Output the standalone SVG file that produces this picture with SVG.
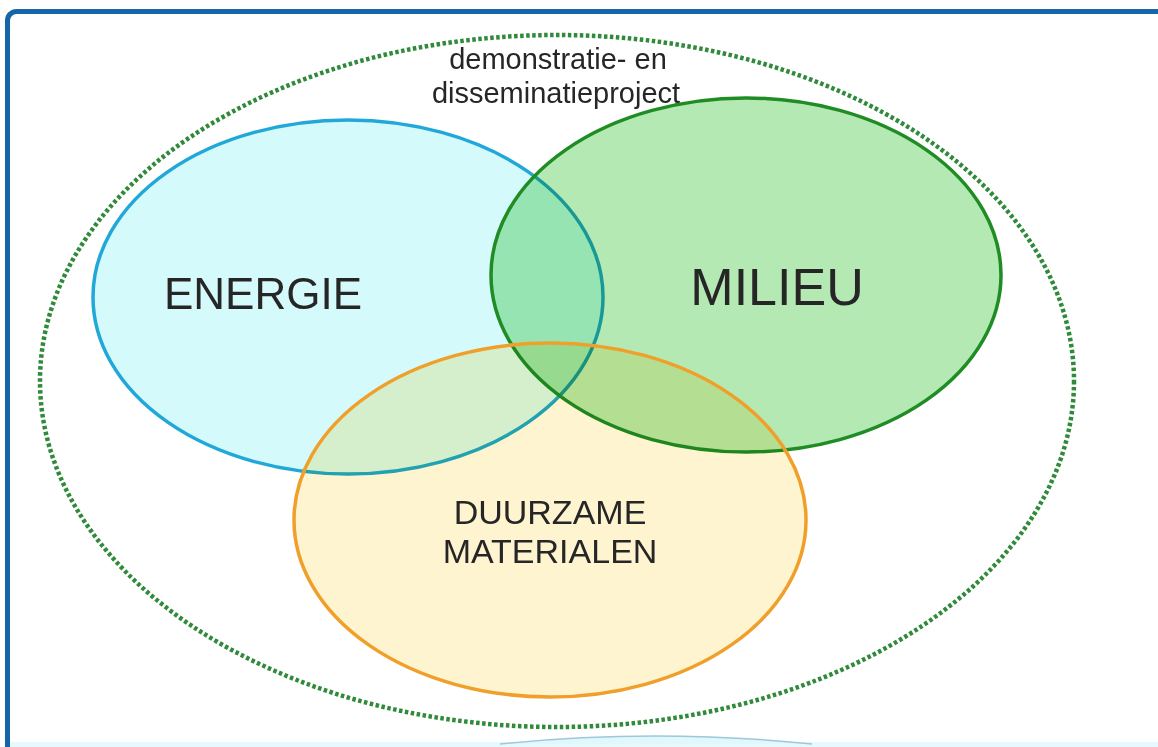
<svg xmlns="http://www.w3.org/2000/svg" width="1158" height="747" viewBox="0 0 1158 747">
<style>
.lbl{font-family:"Liberation Sans",Arial,sans-serif;fill:#262626;text-anchor:middle}
.fill{mix-blend-mode:multiply;stroke:none}
.edge{fill:none;stroke-width:3.5}
</style>
<rect width="1158" height="747" fill="#ffffff"/>
<g id="frame">
<rect x="7.5" y="11.5" width="1200" height="800" rx="9" fill="none" stroke="#1565a8" stroke-width="5"/>
<rect x="10" y="742" width="1148" height="5" fill="#e6fafd"/>
<path d="M500,744 Q655,728 812,744" fill="#e0f7fb" stroke="#9cc8dc" stroke-width="1.5"/>
</g>
<g id="project">
<ellipse cx="557" cy="381" rx="517" ry="346" fill="none" stroke="#2f8a3a" stroke-width="4.5" stroke-dasharray="3.5 2.5"/>
<text class="lbl" x="558" y="69" font-size="29">demonstratie- en</text>
<text class="lbl" x="556" y="103" font-size="29">disseminatieproject</text>
</g>
<g id="energie">
<ellipse class="fill" cx="348" cy="297" rx="255" ry="177" fill="#d5fafc"/>
<ellipse class="edge" cx="348" cy="297" rx="255" ry="177" stroke="#22a8d8"/>
</g>
<g id="milieu">
<ellipse class="fill" cx="746" cy="275" rx="255" ry="177" fill="#b4e9b3"/>
<ellipse class="edge" cx="746" cy="275" rx="255" ry="177" stroke="#1f8c24"/>
</g>
<g id="materialen">
<ellipse class="fill" cx="550" cy="520" rx="256" ry="177" fill="#fff4d0"/>
<ellipse class="edge" cx="550" cy="520" rx="256" ry="177" stroke="#f0a02a"/>
</g>
<g id="labels">
<text class="lbl" x="263" y="309" font-size="44">ENERGIE</text>
<text class="lbl" x="777" y="305" font-size="52">MILIEU</text>
<text class="lbl" x="550" y="524" font-size="34">DUURZAME</text>
<text class="lbl" x="550" y="563" font-size="34">MATERIALEN</text>
</g>
</svg>
